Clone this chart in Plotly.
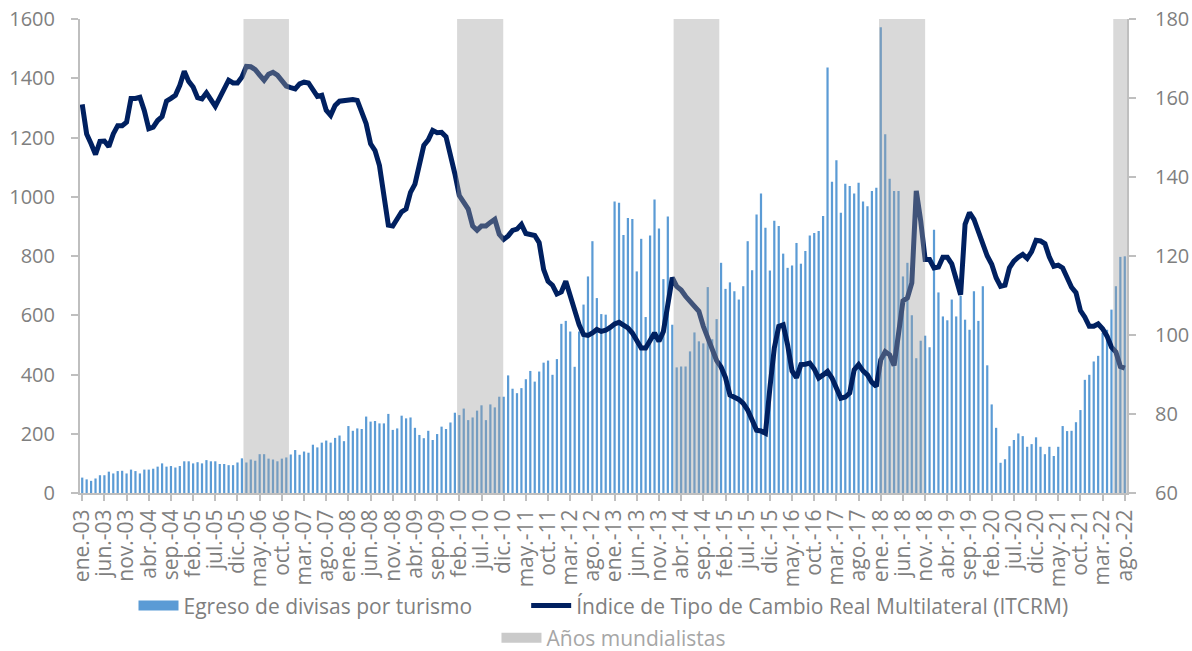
import plotly.graph_objects as go

# Tick labels (every 5th month, ene-03 ... ago-22)
tick_labels = [
    "ene.-03", "jun.-03", "nov.-03", "abr.-04", "sep.-04", "feb.-05", "jul.-05", "dic.-05",
    "may.-06", "oct.-06", "mar.-07", "ago.-07", "ene.-08", "jun.-08", "nov.-08", "abr.-09",
    "sep.-09", "feb.-10", "jul.-10", "dic.-10", "may.-11", "oct.-11", "mar.-12", "ago.-12",
    "ene.-13", "jun.-13", "nov.-13", "abr.-14", "sep.-14", "feb.-15", "jul.-15", "dic.-15",
    "may.-16", "oct.-16", "mar.-17", "ago.-17", "ene.-18", "jun.-18", "nov.-18", "abr.-19",
    "sep.-19", "feb.-20", "jul.-20", "dic.-20", "may.-21", "oct.-21", "mar.-22", "ago.-22",
]
tick_step = 5

# Egreso de divisas por turismo (monthly, ene-03 .. ago-22), left axis
egreso = [
    52, 46, 41, 49, 60, 60, 72, 66, 74, 75,
    66, 79, 74, 66, 79, 79, 82, 89, 100, 89,
    91, 86, 91, 107, 107, 100, 104, 100, 111, 107,
    107, 98, 98, 94, 94, 103, 117, 103, 113, 109,
    131, 131, 116, 113, 107, 116, 120, 130, 145, 129,
    140, 136, 163, 154, 170, 177, 170, 186, 194,
    175, 226, 210, 218, 216, 258, 241, 243, 235, 235, 267,
    213, 218, 261, 252, 255, 220, 196, 185, 210, 179,
    199, 224, 216, 238, 271, 263, 285, 246, 255, 278,
    296, 246, 299, 289, 325, 325, 397, 352, 337, 354,
    384, 412, 376, 410, 440, 447, 399, 452, 571, 581,
    545, 426, 545, 636, 731, 850, 658, 604,
    602, 562, 984, 980, 871, 928, 925, 748, 858, 594,
    869, 991, 893, 722, 933, 568, 424, 427, 427, 478,
    542, 512, 505, 695, 519, 587, 777, 689, 711, 681,
    653, 698, 850, 752, 940, 1011, 895, 751, 919, 901,
    808, 760, 768, 844, 774, 817, 869, 878, 884, 935,
    1436, 1051, 1123, 946, 1044, 1036, 1011, 1047, 984,
    968, 1019, 1030, 1572, 1211, 1061, 1019, 1019, 731, 777,
    600, 455, 514, 531, 492, 889, 677, 596, 583, 653,
    596, 666, 585, 551, 681, 581, 698, 431, 299, 220,
    102, 114, 158, 179, 201, 192, 156, 165, 188, 156,
    131, 156, 125, 156, 226, 209, 210, 239, 280, 382,
    399, 444, 463, 540, 551, 619, 698, 797, 799,
]

# ITCRM (monthly), right axis
itcrm = [
    158.4, 150.9, 148.4, 145.7, 149.0, 149.1, 147.7, 150.9, 153.0, 153.0,
    153.9, 159.9, 159.9, 160.2, 156.8, 152.2, 152.6, 154.3, 155.3, 159.2,
    159.9, 160.7, 163.2, 166.8, 164.2, 162.8, 160.1, 159.8, 161.3, 159.4,
    157.9, 160.1, 162.4, 164.5, 163.8, 163.8, 165.3, 168.0, 167.9, 167.2,
    165.8, 164.5, 166.0, 166.5, 165.8, 164.3, 163.0, 162.6, 162.3, 163.6,
    164.0, 163.8, 162.1, 160.4, 160.7, 156.9, 155.6, 158.1, 159.2,
    159.4, 159.5, 159.6, 159.4, 156.4, 153.5, 148.4, 146.7, 142.9, 134.8, 127.8,
    127.6, 129.5, 131.2, 131.9, 136.1, 138.2, 143.3, 148.0, 149.4, 151.8,
    151.2, 151.3, 150.2, 145.8, 140.8, 135.3, 133.3, 131.9, 127.6, 126.5,
    127.6, 127.6, 128.5, 129.3, 125.5, 124.2, 125.1, 126.5, 126.8, 128.0,
    125.7, 125.3, 125.2, 123.4, 116.6, 113.6, 112.6, 110.4, 110.9, 113.6,
    109.8, 106.9, 102.6, 100.1, 99.9, 100.5, 101.4, 100.9,
    101.2, 101.9, 102.8, 103.2, 102.6, 101.8, 100.5, 98.4, 96.7, 96.7,
    98.6, 100.5, 98.4, 100.9, 107.7, 114.5, 112.3, 111.4, 109.8, 108.6,
    107.3, 106.0, 102.2, 99.2, 95.8, 93.5, 91.9, 89.2, 84.8, 84.4,
    83.7, 82.7, 81.0, 78.5, 75.9, 75.7, 75.1, 86.5, 96.7, 102.2,
    102.6, 97.5, 90.9, 89.2, 92.5, 92.6, 92.9, 91.4, 89.1, 89.9,
    90.8, 89.1, 86.5, 84.0, 84.3, 85.3, 91.2, 92.5, 90.9,
    89.9, 88.0, 87.0, 93.7, 95.8, 95.0, 92.3, 100.3, 108.6, 109.4,
    113.2, 136.5, 128.9, 119.1, 119.1, 117.0, 117.2, 119.7, 119.7, 118.0,
    114.1, 110.2, 128.0, 131.0, 129.3, 126.3, 123.1, 120.0, 117.9, 114.5,
    112.3, 112.6, 117.0, 118.7, 119.7, 120.4, 119.4, 121.1, 124.0, 123.8,
    123.1, 119.7, 117.4, 117.7, 117.0, 114.5, 112.1, 110.7, 106.2, 104.5,
    102.2, 102.2, 102.8, 101.6, 99.7, 96.9, 95.7, 92.0, 91.6,
]

# World Cup periods, in month index units (0 = ene-03)
mundial_desde = [36.35, 84.5, 133.3, 179.6, 232.4]
mundial_hasta = [46.6, 94.9, 143.6, 190.0, 235.5]

n = len(egreso)
assert n == len(itcrm) == 236
idx = list(range(n))

FONT = "Open Sans"
GREY_TXT = "#7f7f7f"
AXIS_COL = "#bfbfbf"
NBSP = "\u00a0"

fig = go.Figure()

fig.add_trace(go.Bar(
    x=idx, y=egreso, width=0.5, yaxis="y",
    marker=dict(color="#5b9bd5", line=dict(width=0)),
    showlegend=False, hoverinfo="skip",
))

fig.add_trace(go.Scatter(
    x=[None], y=[None], mode="lines",
    line=dict(color="#5b9bd5", width=14),
    name="Egreso de divisas por turismo" + NBSP * 9, legendrank=1,
))

fig.add_trace(go.Scatter(
    x=idx, y=itcrm, yaxis="y2", mode="lines",
    line=dict(color="#002060", width=5),
    name="Índice de Tipo de Cambio Real Multilateral (ITCRM)", legendrank=2,
))

centers = [(a + b) / 2 for a, b in zip(mundial_desde, mundial_hasta)]
widths = [b - a for a, b in zip(mundial_desde, mundial_hasta)]
fig.add_trace(go.Bar(
    x=centers, y=[1] * len(centers), width=widths, yaxis="y3",
    marker=dict(color="rgba(160,160,160,0.4)", line=dict(width=0)),
    showlegend=False, hoverinfo="skip",
))

fig.add_trace(go.Scatter(
    x=[None], y=[None], mode="lines",
    line=dict(color="#cacaca", width=24),
    name="<span style='color:#a6a6a6'>Años mundialistas</span>",
    legend="legend2",
))

axis_common = dict(
    showline=True, linecolor=AXIS_COL, linewidth=2,
    ticks="outside", tickcolor=AXIS_COL, tickwidth=2,
    showgrid=False, zeroline=False, automargin=False,
    ticklabeloverflow="allow",
)
tfont = dict(family=FONT, size=20, color=GREY_TXT)

fig.update_layout(
    width=1192, height=651,
    margin=dict(l=80, r=65, t=19, b=158, autoexpand=False),
    paper_bgcolor="white", plot_bgcolor="white",
    barmode="overlay",
    font=dict(family=FONT, size=20, color=GREY_TXT),
    xaxis=dict(
        range=[-0.5, n - 0.5],
        tickvals=idx[::tick_step], ticktext=tick_labels,
        tickangle=-90, ticklen=6,
        tickfont=dict(family=FONT, size=21, color=GREY_TXT),
        **axis_common,
    ),
    yaxis=dict(range=[0, 1600], dtick=200, tick0=0, ticklen=7,
               ticklabelstandoff=12, tickfont=tfont, **axis_common),
    yaxis2=dict(range=[60, 180], dtick=20, tick0=60, ticklen=7,
                overlaying="y", side="right", ticklabelstandoff=15,
                tickfont=tfont, **axis_common),
    yaxis3=dict(range=[0, 1], overlaying="y", visible=False),
    legend=dict(
        orientation="h", x=0.5, xanchor="center", y=-0.238, yanchor="middle",
        font=dict(family=FONT, size=21, color=GREY_TXT),
        bgcolor="rgba(0,0,0,0)", itemwidth=40,
    ),
    legend2=dict(
        orientation="h", x=0.51, xanchor="center", y=-0.306, yanchor="middle",
        font=dict(family=FONT, size=21, color="#a6a6a6"),
        bgcolor="rgba(0,0,0,0)", itemwidth=40,
    ),
)

fig.write_html(
    "out.html",
    config={"displayModeBar": False},
    post_script="document.body.style.margin='0';document.body.style.overflow='hidden';",
)
